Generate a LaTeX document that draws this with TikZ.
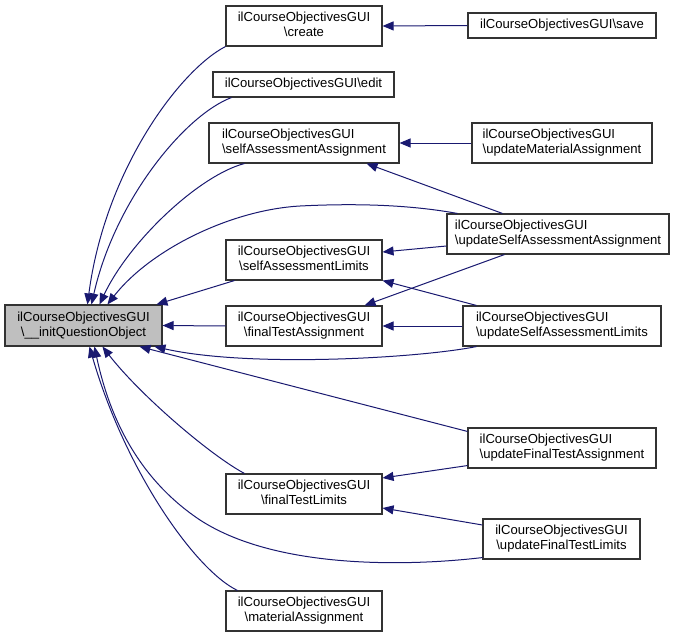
\documentclass[tikz,border=0pt]{standalone}
\usepackage{fontspec}
\setmainfont{Liberation Sans}
\usetikzlibrary{arrows.meta,calc}
\definecolor{edgeblue}{HTML}{191970}
\definecolor{rootgray}{HTML}{BFBFBF}
\definecolor{boxline}{HTML}{333333}
\newcommand{\twoline}[2]{\begin{tabular}{@{}l@{}}#1\\\multicolumn{1}{@{}c@{}}{#2}\end{tabular}}
\newcommand{\cls}{ilCourseObjectivesGUI}
\begin{document}
\begin{tikzpicture}[x=1pt,y=-1pt,
  box/.style={draw=boxline, line width=1.1pt, fill=white, inner sep=0pt,
    font=\fontsize{13.1}{15}\selectfont, align=center},
  edge/.style={draw=edgeblue, line width=1pt,
    -{Triangle[length=11pt,width=9pt]}}]
\useasboundingbox (0,0) rectangle (683,637);
% nodes
\node[box, fill=rootgray, minimum width=157pt, minimum height=41pt] (root) at (83.5,325.5) {\twoline{\cls}{\textbackslash\_\_initQuestionObject}};
\node[box, minimum width=156pt, minimum height=40pt] (create) at (304,26) {\twoline{\cls}{\textbackslash create}};
\node[box, minimum width=188pt, minimum height=25pt] (save) at (562,25.5) {\cls\textbackslash save};
\node[box, minimum width=181pt, minimum height=25pt] (edit) at (303.5,84.5) {\cls\textbackslash edit};
\node[box, minimum width=190pt, minimum height=40pt] (sAA) at (304,143) {\twoline{\cls}{\textbackslash selfAssessmentAssignment}};
\node[box, minimum width=180pt, minimum height=40pt] (uMA) at (562,143) {\twoline{\cls}{\textbackslash updateMaterialAssignment}};
\node[box, minimum width=222pt, minimum height=40pt] (uSAA) at (558,234) {\twoline{\cls}{\textbackslash updateSelfAssessmentAssignment}};
\node[box, minimum width=156pt, minimum height=40pt] (sAL) at (304,260) {\twoline{\cls}{\textbackslash selfAssessmentLimits}};
\node[box, minimum width=156pt, minimum height=40pt] (fTA) at (304,326) {\twoline{\cls}{\textbackslash finalTestAssignment}};
\node[box, minimum width=198pt, minimum height=40pt] (uSAL) at (562,326) {\twoline{\cls}{\textbackslash updateSelfAssessmentLimits}};
\node[box, minimum width=188pt, minimum height=40pt] (uFTA) at (562,448) {\twoline{\cls}{\textbackslash updateFinalTestAssignment}};
\node[box, minimum width=156pt, minimum height=40pt] (fTL) at (304,494) {\twoline{\cls}{\textbackslash finalTestLimits}};
\node[box, minimum width=157pt, minimum height=40pt] (uFTL) at (561.5,539) {\twoline{\cls}{\textbackslash updateFinalTestLimits}};
\node[box, minimum width=156pt, minimum height=40pt] (mA) at (304,611) {\twoline{\cls}{\textbackslash materialAssignment}};
% edges between right and middle columns
\draw[edge] (save.west) -- (create.east);
\draw[edge] (uMA.west) -- (sAA.east);
\draw[edge] ($(uSAA.north west)+(56,0)$) -- ($(sAA.south east)+(-33,0)$);
\draw[edge] ($(uSAA.west)+(0,12)$) -- ($(sAL.east)+(0,-8)$);
\draw[edge] ($(uSAA.south west)+(58,0)$) -- ($(fTA.north east)+(-18,0)$);
\draw[edge] ($(uSAL.north west)+(14,0)$) -- (sAL.south east);
\draw[edge] (uSAL.west) -- (fTA.east);
\draw[edge] ($(uFTA.south west)+(0,-3)$) -- ($(fTL.east)+(0,-16)$);
\draw[edge] ($(uFTL.west)+(0,-14)$) -- ($(fTL.east)+(0,14)$);
% edges into the root
\draw[edge] (create.south west) .. controls (180,70) and (105,170) .. ($(root.north west)+(83,0)$);
\draw[edge] ($(edit.south west)+(19,0)$) .. controls (185,115) and (115,200) .. ($(root.north west)+(87,0)$);
\draw[edge] ($(sAA.south west)+(36,0)$) .. controls (200,175) and (130,240) .. ($(root.north west)+(95,0)$);
\draw[edge] ($(uSAA.north west)+(11,0)$) .. controls (400,203) and (340,204) .. (300,206) .. controls (230,210) and (150,250) .. ($(root.north west)+(103,0)$);
\draw[edge] ($(sAL.south west)+(9,0)$) -- ($(root.north west)+(152,0)$);
\draw[edge] (fTA.west) -- (root.east);
\draw[edge] ($(uSAL.south west)+(14,0)$) .. controls (420,358) and (250,368) .. ($(root.south west)+(150,0)$);
\draw[edge] ($(uFTA.north west)+(0,4)$) -- ($(root.south west)+(135,0)$);
\draw[edge] ($(fTL.north west)+(19,0)$) .. controls (210,455) and (140,395) .. ($(root.south west)+(98,0)$);
\draw[edge] ($(uFTL.south west)+(0,-2)$) .. controls (420,565) and (280,572) .. (200,520) .. controls (140,480) and (110,420) .. ($(root.south west)+(90,0)$);
\draw[edge] ($(mA.north west)+(12,0)$) .. controls (195,570) and (125,470) .. ($(root.south west)+(85,0)$);
\end{tikzpicture}
\end{document}
